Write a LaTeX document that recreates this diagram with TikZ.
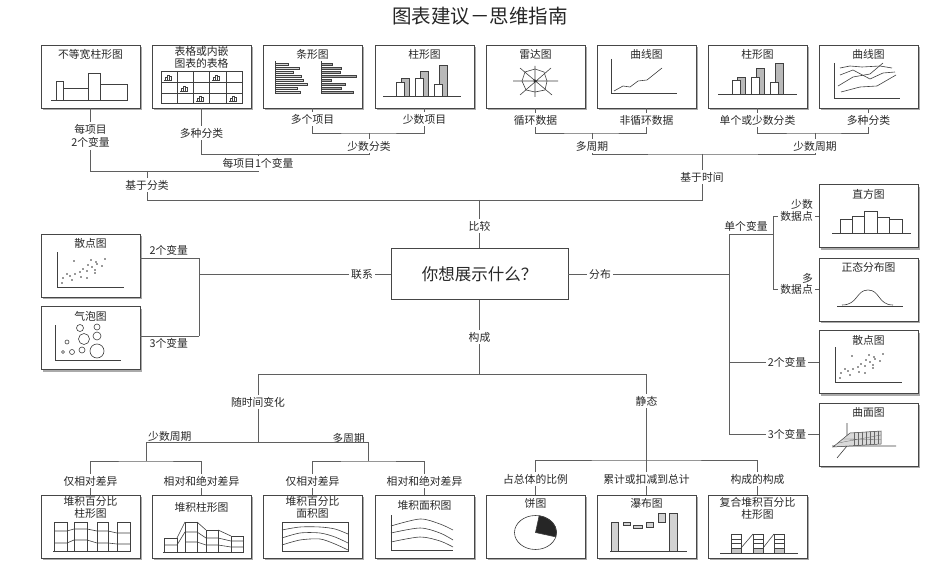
\documentclass[tikz,border=0pt]{standalone}
\usepackage{fontspec}
\newfontfamily\cjk{Noto Sans CJK SC}
\usetikzlibrary{positioning, shadows}
\definecolor{linegray}{RGB}{95,95,95}
\definecolor{edgegray}{RGB}{70,70,70}
\definecolor{shadowgray}{RGB}{170,170,170}
\definecolor{textgray}{RGB}{40,40,40}

\begin{document}
\begin{tikzpicture}[x=1pt, y=-1pt, font=\cjk\fontsize{10.8}{11.5}\selectfont]

  \tikzset{
    chart/.style = {
      rectangle, draw=edgegray, line width=0.9pt, fill=white,
      minimum width=99pt, minimum height=63pt, inner sep=0pt,
      drop shadow={shadow xshift=2.2pt, shadow yshift=-2.2pt, opacity=1, fill=shadowgray}
    },
    ttl/.style = {inner sep=1pt, align=center, text=textgray},
    lbl/.style = {inner sep=2pt, align=center, text=textgray},
    tree/.style = {draw=linegray, line width=0.8pt},
    mini/.style = {draw=black!75, line width=0.6pt},
    dot/.style = {fill=black!80}
  }

  \useasboundingbox [fill=white] (0,0) rectangle (951,583);

  \node (title) [font=\cjk\fontsize{19.5}{22}\selectfont, text=black!85] at (480,16) {图表建议－思维指南};

  % --- top row: comparison charts -------------------------------------------
  \node (t1) [chart] at (90.5,76.5) {};
  \node (t2) [chart] at (201.5,76.5) {};
  \node (t3) [chart] at (312.5,76.5) {};
  \node (t4) [chart] at (424.5,76.5) {};
  \node (t5) [chart] at (535.5,76.5) {};
  \node (t6) [chart] at (646.5,76.5) {};
  \node (t7) [chart] at (757.5,76.5) {};
  \node (t8) [chart] at (868.5,76.5) {};

  \node (t1t) [ttl, below=4pt of t1.north] {不等宽柱形图};
  \node (t2t) [ttl, below=1pt of t2.north] {表格或内嵌\\图表的表格};
  \node (t3t) [ttl, below=4pt of t3.north] {条形图};
  \node (t4t) [ttl, below=4pt of t4.north] {柱形图};
  \node (t5t) [ttl, below=4pt of t5.north] {雷达图};
  \node (t6t) [ttl, below=4pt of t6.north] {曲线图};
  \node (t7t) [ttl, below=4pt of t7.north] {柱形图};
  \node (t8t) [ttl, below=4pt of t8.north] {曲线图};

  % variable width columns
  \draw [mini] (51,100) -- (128,100);
  \draw [mini] (56,100) rectangle (63,81) (63,100) rectangle (88,88)
               (88,100) rectangle (100,73) (100,100) rectangle (127,84);

  % table with embedded charts
  \draw [mini] (161,71) rectangle (242,103);
  \foreach \x in {177,193,209,226} \draw [mini] (\x,71) -- (\x,103);
  \foreach \y in {82,93} \draw [mini] (161,\y) -- (242,\y);
  \foreach \cx/\cy in {168/80, 184/91, 200/101, 216/80, 233/101} {
    \draw [mini, line width=0.4pt] ({\cx-4},\cy) -- ({\cx+4},\cy);
    \draw [mini, line width=0.4pt] ({\cx-3},\cy) rectangle ({\cx-1},{\cy-3})
      ({\cx-1},\cy) rectangle ({\cx+1},{\cy-5}) ({\cx+1},\cy) rectangle ({\cx+3},{\cy-4});
  }

  % bar charts
  \foreach \y/\e in {63/288, 67/299, 71/293, 75/301, 79/303, 83/307, 87/297, 91/300}
    \draw [mini, line width=0.4pt, fill=gray!30] (275,\y) rectangle (\e,{\y+2.6});
  \foreach \y/\e in {63/332, 67/341, 71/340, 75/356, 79/331, 83/345, 87/341, 91/353}
    \draw [mini, line width=0.4pt, fill=gray!70] (321,\y) rectangle (\e,{\y+2.6});
  \draw [mini] (275,61) -- (275,94) (321,61) -- (321,94);

  % column chart, few items
  \draw [mini] (383,96) -- (461,96);
  \foreach \x/\g/\w in {396/78/82, 415/71/78, 434/65/84} {
    \draw [mini, fill=gray!55] ({\x+5},96) rectangle ({\x+13},\g);
    \draw [mini, fill=white] (\x,96) rectangle ({\x+8},\w);
  }

  % radar
  \draw [mini] (513,81) -- (558,81) (535,66) -- (535,97) (520,68) -- (552,95) (520,95) -- (551,68);
  \draw [mini] (547,81) -- (544,72) -- (535,69) -- (525,72) -- (522,81) -- (526,90) -- (535,92) -- (545,90) -- cycle;
  \fill [dot] (535,81) circle (1.6);

  % line chart, many periods
  \draw [mini] (611,59) -- (611,93) -- (677,93);
  \draw [mini] (614,91) -- (623,86) -- (630,87) -- (638,81) -- (647,80) -- (662,68);

  % column chart, few periods
  \draw [mini] (718,94) -- (797,94);
  \foreach \x/\g/\w in {732/77/80, 751/68/77, 770/63/82} {
    \draw [mini, fill=gray!55] ({\x+5},94) rectangle ({\x+13},\g);
    \draw [mini, fill=white] (\x,94) rectangle ({\x+8},\w);
  }

  % line chart, many categories
  \draw [mini] (834,63) -- (834,98) -- (900,98);
  \draw [mini] (840,68) -- (850,66) -- (862,67) -- (880,66) -- (892,68);
  \draw [mini] (840,75) -- (853,70) -- (870,79) -- (883,73) -- (895,72);
  \draw [mini] (838,86) -- (853,77) -- (870,74) -- (883,63);
  \draw [mini] (841,92) -- (860,87) -- (877,86) -- (896,75);

  % --- comparison tree ------------------------------------------------------
  \node (la1)   [lbl] at (90.5,136)  {每项目\\[2pt]2个变量};
  \node (la2)   [lbl] at (201.5,133) {多种分类};
  \node (la3)   [lbl] at (312.5,119) {多个项目};
  \node (la4)   [lbl] at (424.5,119) {少数项目};
  \node (la34)  [lbl] at (369,146)   {少数分类};
  \node (la234) [lbl] at (258,163.5) {每项目1个变量};
  \node (lcat)  [lbl] at (147,185)   {基于分类};

  \node (lb5)   [lbl] at (535.5,120) {循环数据};
  \node (lb6)   [lbl] at (646.5,120) {非循环数据};
  \node (lb7)   [lbl] at (757.5,120) {单个或少数分类};
  \node (lb8)   [lbl] at (868.5,120) {多种分类};
  \node (lb56)  [lbl] at (592,146)   {多周期};
  \node (lb78)  [lbl] at (815,146)   {少数周期};
  \node (ltime) [lbl] at (702,177)   {基于时间};

  \coordinate (j34)   at (369,133);
  \coordinate (k1)    at (369,154);
  \coordinate (k2)    at (258,154);
  \coordinate (k3)    at (258,171);
  \coordinate (k4)    at (147,171);
  \coordinate (k5)    at (479.5,200);
  \coordinate (m56)   at (592,133);
  \coordinate (m78)   at (815,133);
  \coordinate (m5678) at (702,154);

  \foreach \a/\b in {t1/la1, t2/la2, t3/la3, t4/la4, t5/lb5, t6/lb6, t7/lb7, t8/lb8}
    \draw [tree] (\a) -- (\b);
  \draw [tree] (la3) |- (j34) -| (la4);
  \draw [tree] (j34) -- (la34);
  \draw [tree] (la2) |- (k1) -- (la34);
  \draw [tree] (k2) -- (la234);
  \draw [tree] (la1) |- (k3) -- (la234);
  \draw [tree] (k4) -- (lcat);
  \draw [tree] (lcat) |- (k5);
  \draw [tree] (lb5) |- (m56) -| (lb6);
  \draw [tree] (lb7) |- (m78) -| (lb8);
  \draw [tree] (m56) -- (lb56);
  \draw [tree] (m78) -- (lb78);
  \draw [tree] (lb56) |- (m5678) -| (lb78);
  \draw [tree] (m5678) -- (ltime);
  \draw [tree] (ltime) |- (k5);

  % --- centre question ------------------------------------------------------
  \node (q) [rectangle, draw=edgegray, line width=0.9pt, minimum width=177pt, minimum height=51pt,
             font=\cjk\fontsize{16.5}{18}\selectfont, text=textgray] at (479.5,274) {你想展示什么？};

  \node (lcmp)  [lbl] at (479.5,226) {比较};
  \node (lcomp) [lbl] at (479.5,337) {构成};
  \node (lrel)  [lbl] at (362,274)   {联系};
  \node (ldist) [lbl] at (600,274)   {分布};
  \draw [tree] (k5) -- (lcmp);
  \draw [tree] (lcmp) -- (q);
  \draw [tree] (q) -- (lcomp);
  \draw [tree] (q) -- (lrel);
  \draw [tree] (q) -- (ldist);

  % --- relationship ---------------------------------------------------------
  \node (s1) [chart] at (90.5,265.5) {};
  \node (s2) [chart] at (90.5,338) {};
  \node (s1t) [ttl, below=4pt of s1.north] {散点图};
  \node (s2t) [ttl, below=4pt of s2.north] {气泡图};

  \draw [mini] (57,252) -- (57,287) -- (124,287);
  \foreach \p/\r in {74/261, 91/260, 96/262, 105/259, 88/265, 92/267, 97/264, 83/269, 87/271, 95/270,
                     102/266, 80/272, 75/274, 70/276, 67/274, 63/278, 62/283, 81/277, 87/278, 95/273, 72/280}
    \fill [dot] (\p,\r) circle (0.9);

  \draw [mini] (55,325) -- (55,360) -- (121,360);
  \foreach \p/\r/\s in {80/328/3.5, 97/327/3, 84/339/5.5, 97/336/4, 67/342/2, 63/352/1.5, 72/352/2.5, 82/350/3, 97/351/7}
    \draw [mini] (\p,\r) circle (\s);

  \coordinate (r0) at (199,274);
  \coordinate (r1) at (199,258);
  \coordinate (r2) at (199,336);
  \draw [tree] (lrel) -- (r0);
  \draw [tree] (r1) -- (r2);
  \draw [tree] (r1) -- (r1 -| s1.east) node (lr2v) [lbl, midway, above, xshift=-1pt] {2个变量};
  \draw [tree] (r2) -- (r2 -| s2.east) node (lr3v) [lbl, midway, below, xshift=-1pt] {3个变量};

  % --- distribution ---------------------------------------------------------
  \node (h1) [chart] at (868.5,216) {};
  \node (h2) [chart] at (868.5,289.5) {};
  \node (h3) [chart] at (868.5,362) {};
  \node (h4) [chart] at (868.5,434.5) {};
  \node (h1t) [ttl, below=4pt of h1.north] {直方图};
  \node (h2t) [ttl, below=4pt of h2.north] {正态分布图};
  \node (h3t) [ttl, below=4pt of h3.north] {散点图};
  \node (h4t) [ttl, below=4pt of h4.north] {曲面图};

  \draw [mini] (832,233) -- (911,233);
  \foreach \a/\b/\h in {840/852/219, 852/864/216, 864/877/211, 877/889/217, 889/902/219}
    \draw [mini] (\a,233) rectangle (\b,\h);

  \draw [mini] (837,306) -- (903,306);
  \draw [mini] (842,305) .. controls (858,305) and (856,290) .. (868,290)
               .. controls (880,290) and (878,305) .. (893,305);

  \draw [mini] (835,347) -- (835,382) -- (902,382);
  \begin{scope}[shift={(778,95)}]
    \foreach \p/\r in {74/261, 91/260, 96/262, 105/259, 88/265, 92/267, 97/264, 83/269, 87/271, 95/270,
                       102/266, 80/272, 75/274, 70/276, 67/274, 63/278, 62/283, 81/277, 87/278, 95/273, 72/280}
      \fill [dot] (\p,\r) circle (0.9);
  \end{scope}

  \draw [mini] (832,446) -- (896,446) (847,423) -- (847,446) -- (837,458);
  \draw [mini, line width=0.5pt, fill=gray!30] (833,447) -- (850,433) -- (881,431) -- (881,444) -- cycle;
  \foreach \x in {854,858,...,878}
    \draw [black!60, line width=0.3pt] (\x,{433-(\x-850)/15}) -- (\x,{447-(\x-833)/16});
  \draw [black!60, line width=0.3pt] (838,443) -- (881,435) (843,439) -- (881,439.5);

  \coordinate (d0)  at (729,274);
  \coordinate (d1)  at (729,234);
  \coordinate (d2)  at (729,362);
  \coordinate (d3)  at (729,434.5);
  \coordinate (d1r) at (773,234);
  \coordinate (d1a) at (773,216);
  \coordinate (d1b) at (773,289.5);
  \node (ld1)   [lbl] at (746,226) {单个变量};
  \node (lfew)  [lbl, align=right, anchor=east] at (815,210.5) {少数\\数据点};
  \node (lmany) [lbl, align=right, anchor=east] at (815,284)   {多\\数据点};
  \node (ld2)   [lbl] at (787,362)   {2个变量};
  \node (ld3)   [lbl] at (787,434.5) {3个变量};

  \draw [tree] (ldist) -- (d0);
  \draw [tree] (d1) -- (d3);
  \draw [tree] (d1) -- (d1r);
  \draw [tree] (d1a) -- (d1b);
  \draw [tree] (d1a) -- (d1a -| lfew.west);
  \draw [tree] (lfew.east |- d1a) -- (h1);
  \draw [tree] (d1b) -- (d1b -| lmany.west);
  \draw [tree] (lmany.east |- d1b) -- (h2);
  \draw [tree] (d2) -- (ld2);
  \draw [tree] (ld2) -- (h3);
  \draw [tree] (d3) -- (ld3);
  \draw [tree] (ld3) -- (h4);

  % --- composition ----------------------------------------------------------
  \node (b1) [chart] at (90.5,526.5) {};
  \node (b2) [chart] at (201.5,526.5) {};
  \node (b3) [chart] at (312.5,526.5) {};
  \node (b4) [chart] at (424.5,526.5) {};
  \node (b5) [chart] at (535.5,526.5) {};
  \node (b6) [chart] at (646.5,526.5) {};
  \node (b7) [chart] at (757.5,526.5) {};
  \node (b1t) [ttl, below=1pt of b1.north] {堆积百分比\\柱形图};
  \node (b2t) [ttl, below=7pt of b2.north] {堆积柱形图};
  \node (b3t) [ttl, below=1pt of b3.north] {堆积百分比\\面积图};
  \node (b4t) [ttl, below=5pt of b4.north] {堆积面积图};
  \node (b5t) [ttl, below=3pt of b5.north] {饼图};
  \node (b6t) [ttl, below=3pt of b6.north] {瀑布图};
  \node (b7t) [ttl, below=2pt of b7.north] {复合堆积百分比\\柱形图};

  % stacked 100% columns
  \draw [mini] (53,551) -- (131,551);
  \foreach \x/\w in {54/13, 74/13, 97/11, 117/13}
    \draw [mini] (\x,522) rectangle ({\x+\w},551);
  \draw [mini] (54,531) -- (67,531) -- (74,529) -- (87,529) -- (97,531) -- (108,531) -- (117,533) -- (130,533);
  \draw [mini] (54,543) -- (67,543) -- (74,540) -- (87,540) -- (97,543) -- (108,543) -- (117,544) -- (130,544);

  % stacked columns
  \draw [mini] (163,552) -- (243,552);
  \draw [mini] (164,538) rectangle (177,552) (185,522) rectangle (197,552)
               (206,530) rectangle (218,552) (231,536) rectangle (243,552);
  \draw [mini] (164,545) -- (177,545) -- (185,532) -- (197,532) -- (206,538) -- (218,538) -- (231,541) -- (243,541);
  \draw [mini] (185,542) -- (197,542) -- (206,545) -- (218,545) -- (231,547) -- (243,547);
  \draw [mini] (177,538) -- (185,522) (197,522) -- (206,530) (218,530) -- (231,536);

  % stacked 100% area
  \draw [mini] (282,522) rectangle (348,551);
  \draw [mini] plot [smooth] coordinates {(282,530) (300,527) (320,527) (335,529) (348,534)};
  \draw [mini] plot [smooth] coordinates {(282,538) (300,533) (320,533) (335,537) (348,543)};
  \draw [mini] plot [smooth] coordinates {(282,545) (300,540) (320,539) (335,544) (348,550)};

  % stacked area
  \draw [mini] (391,515) -- (391,550) -- (453,550);
  \draw [mini] plot [smooth] coordinates {(391,526) (420,519) (440,524) (453,530)};
  \draw [mini] plot [smooth] coordinates {(391,533) (420,528) (440,533) (453,540)};
  \draw [mini] plot [smooth] coordinates {(391,542) (420,537) (440,541) (453,547)};

  % pie
  \draw [mini, fill=white] (535.5,532.5) circle [x radius=21, y radius=17];
  \filldraw [mini, fill=black!85] (535.5,532.5) -- ++(-80:21 and 17)
    arc [start angle=-80, end angle=15, x radius=21, y radius=17] -- cycle;

  % waterfall
  \draw [mini] (610,551) -- (687,551);
  \foreach \a/\b/\c/\d in {611/522/618/551, 623/522/630/525, 633/525/642/528,
                           646/522/653/527, 658/513/665/522, 669/513/677/551}
    \draw [mini, fill=gray!35] (\a,\b) rectangle (\c,\d);

  % composite stacked 100% columns
  \draw [mini] (720,553) -- (798,553);
  \foreach \x in {731,753,774} {
    \fill [gray!45] (\x,548) rectangle ({\x+10},553);
    \draw [mini] (\x,534) rectangle ({\x+10},553);
    \draw [mini, line width=0.4pt] (\x,539) -- ({\x+10},539) (\x,543.5) -- ({\x+10},543.5) (\x,548) -- ({\x+10},548);
  }
  \draw [mini] (741,548) -- (753,534) (763,548) -- (774,534);

  % composition tree
  \node (ltv) [lbl] at (258,402)   {随时间变化};
  \node (lst) [lbl] at (646.5,401) {静态};
  \node (lr1) [lbl] at (90.5,481)  {仅相对差异};
  \node (lr2) [lbl] at (201.5,481) {相对和绝对差异};
  \node (lr3) [lbl] at (312.5,481) {仅相对差异};
  \node (lr4) [lbl] at (424.5,481) {相对和绝对差异};
  \node (ls5) [lbl] at (535.5,479) {占总体的比例};
  \node (ls6) [lbl] at (646.5,479) {累计或扣减到总计};
  \node (ls7) [lbl] at (757.5,479) {构成的构成};

  \coordinate (k6) at (479.5,374);
  \coordinate (c1) at (258,374);
  \coordinate (c2) at (646.5,374);
  \coordinate (c3) at (258,442);
  \coordinate (c4) at (146,442);
  \coordinate (c5) at (368.5,442);
  \coordinate (c6) at (146,461);
  \coordinate (c8) at (368.5,461);
  \coordinate (c9) at (646.5,460);

  \node (lfewp)  [lbl, above right, inner sep=1pt] at (147,443) {少数周期};
  \node (lmanyp) [lbl, above left, inner sep=1pt] at (366,445) {多周期};

  \draw [tree] (lcomp) -- (k6);
  \draw [tree] (c1) -- (c2);
  \draw [tree] (c1) -- (ltv);
  \draw [tree] (ltv) -- (c3);
  \draw [tree] (c4) -- (c5);
  \draw [tree] (c4) -- (c6);
  \draw [tree] (c5) -- (c8);
  \draw [tree] (lr1) |- (c6) -| (lr2);
  \draw [tree] (lr3) |- (c8) -| (lr4);
  \draw [tree] (c2) -- (lst);
  \draw [tree] (lst) -- (c9);
  \draw [tree] (ls5) |- (c9) -| (ls7);
  \draw [tree] (c9) -- (ls6);
  \foreach \a/\b in {lr1/b1, lr2/b2, lr3/b3, lr4/b4, ls5/b5, ls6/b6, ls7/b7}
    \draw [tree] (\a) -- (\b);

\end{tikzpicture}
\end{document}
